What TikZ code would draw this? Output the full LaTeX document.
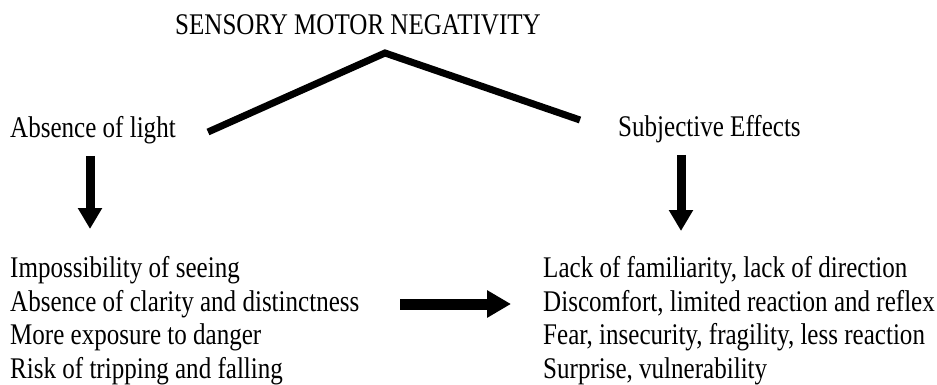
\documentclass[tikz,border=0pt]{standalone}
\usepackage{fontspec}
\setmainfont[FakeStretch=0.835]{Liberation Serif}
\usetikzlibrary{arrows.meta}

\begin{document}
\begin{tikzpicture}[
    x=1pt, y=-1pt,
    every node/.style={font=\fontsize{30}{36}\selectfont},
    txt/.style={anchor=base west, inner sep=0pt},
    roof/.style={line width=7pt, line join=miter},
    downarr/.style={line width=9pt, -{Triangle[length=21pt, width=23pt]}},
    sidearr/.style={line width=11pt, -{Triangle[length=24pt, width=26pt]}},
  ]
  \useasboundingbox (0,0) rectangle (937,385);
  \node[txt] (title) at (175, 35) {SENSORY MOTOR NEGATIVITY};
  \node[txt] (light) at (10, 138) {Absence of light};
  \node[txt] (subj) at (618, 136) {Subjective Effects};
  % left column
  \node[txt] (l1) at (10, 277) {Impossibility of seeing};
  \node[txt] (l2) at (10, 311) {Absence of clarity and distinctness};
  \node[txt] (l3) at (10, 344) {More exposure to danger};
  \node[txt] (l4) at (10, 378) {Risk of tripping and falling};
  % right column
  \node[txt] (r1) at (543, 277) {Lack of familiarity, lack of direction};
  \node[txt] (r2) at (543, 311) {Discomfort, limited reaction and reflex};
  \node[txt] (r3) at (543, 344) {Fear, insecurity, fragility, less reaction};
  \node[txt] (r4) at (543, 378) {Surprise, vulnerability};
  % roof
  \coordinate (peak) at (385, 53);
  \coordinate (roofl) at (208, 132);
  \coordinate (roofr) at (580, 120);
  \draw[roof] (roofl) -- (peak) -- (roofr);
  % arrows
  \coordinate (dl1) at (90, 156);
  \coordinate (dl2) at (90, 229);
  \coordinate (dr1) at (681, 155);
  \coordinate (dr2) at (681, 231);
  \coordinate (h1) at (400, 304);
  \coordinate (h2) at (511, 304);
  \draw[downarr] (dl1) -- (dl2);
  \draw[downarr] (dr1) -- (dr2);
  \draw[sidearr] (h1) -- (h2);
\end{tikzpicture}
\end{document}
